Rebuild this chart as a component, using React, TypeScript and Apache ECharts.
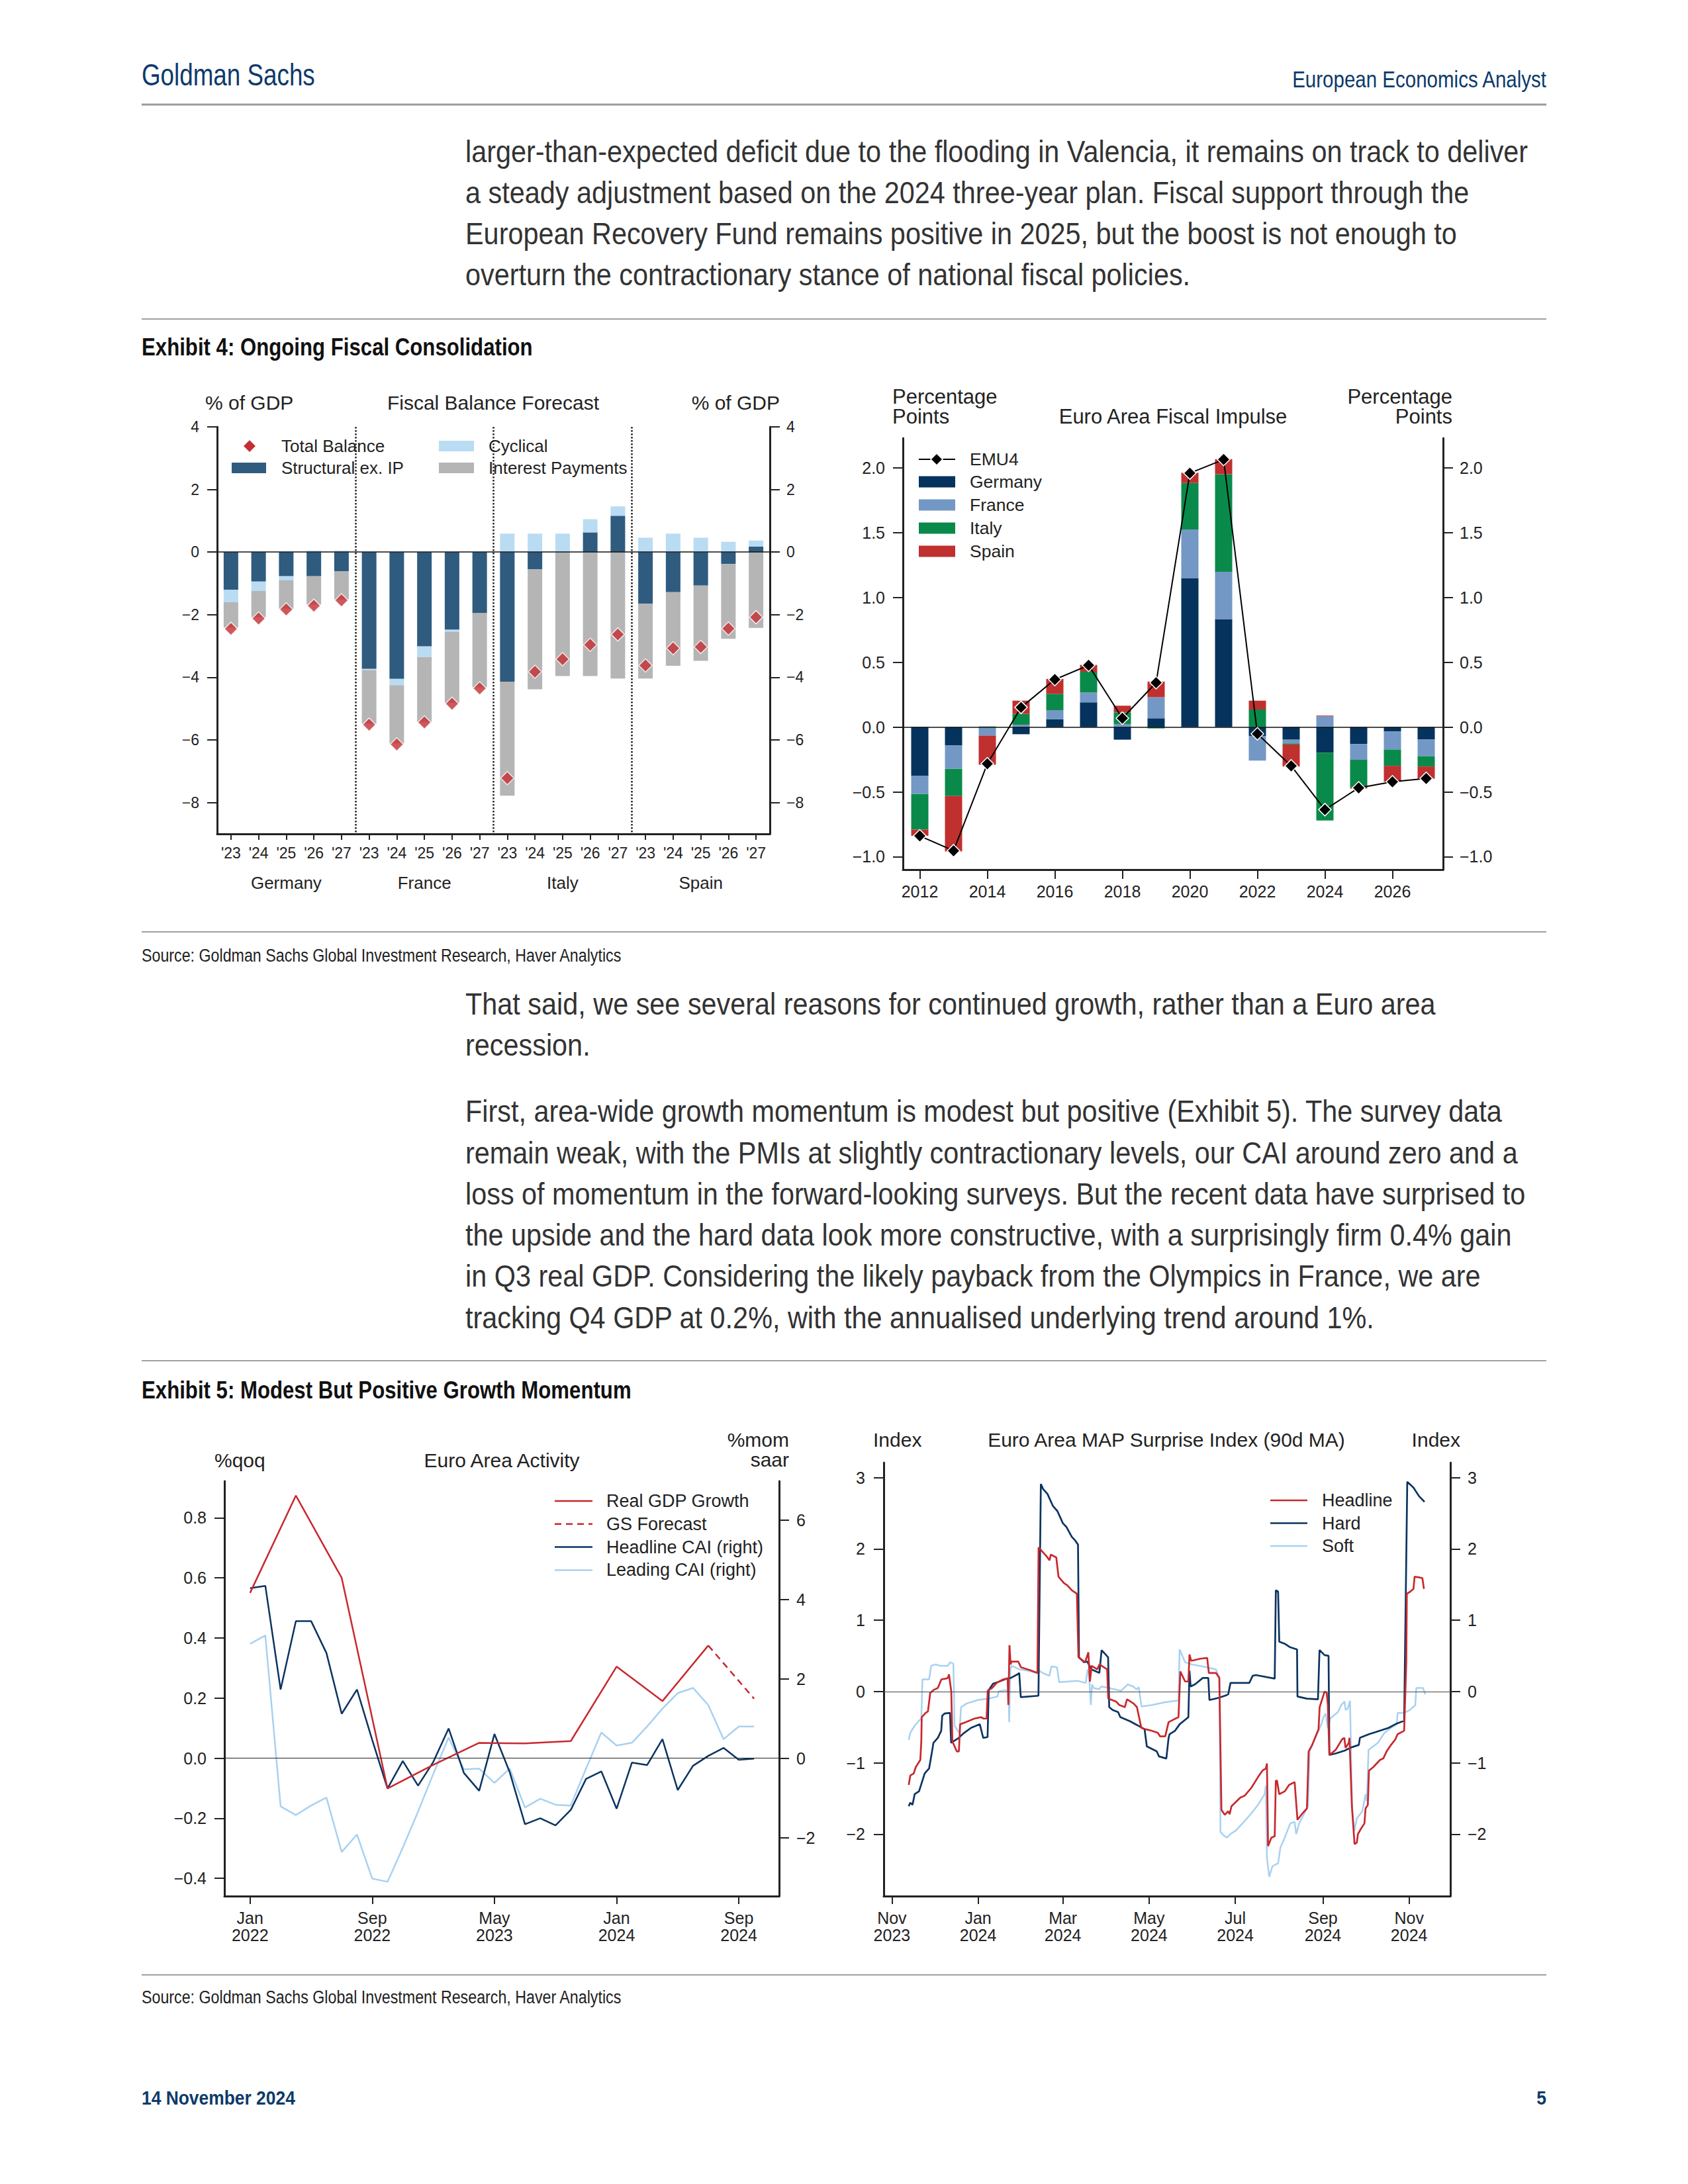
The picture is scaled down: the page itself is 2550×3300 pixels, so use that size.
import React, { useEffect, useRef } from 'react';
import * as echarts from 'echarts';

const W = 2550;
const H = 3300;
const SANS = '"Liberation Sans", Arial, sans-serif';

// ---------- Exhibit 4 left: Fiscal Balance Forecast ----------
const fbCountries = ['Germany', 'France', 'Italy', 'Spain'];
const fbYears = ["'23", "'24", "'25", "'26", "'27"];
const fbStructural = [-1.2, -0.94, -0.77, -0.77, -0.61, -3.73, -4.05, -3.01, -2.48, -1.95, -4.14, -0.55, 0, 0.63, 1.16, -1.65, -1.28, -1.07, -0.38, 0.18];
const fbCyclical = [-0.4, -0.3, -0.13, 0.05, 0.05, -0.04, -0.2, -0.34, -0.07, 0, 0.59, 0.59, 0.59, 0.42, 0.3, 0.46, 0.59, 0.46, 0.33, 0.19];
const fbInterest = [-0.81, -0.84, -0.91, -0.9, -0.9, -1.71, -1.86, -2.07, -2.26, -2.37, -3.64, -3.83, -3.96, -3.96, -4.04, -2.39, -2.35, -2.4, -2.39, -2.42];
const fbTotal = [-2.45, -2.12, -1.83, -1.71, -1.54, -5.51, -6.14, -5.44, -4.84, -4.35, -7.22, -3.82, -3.42, -2.96, -2.63, -3.62, -3.07, -3.03, -2.44, -2.08];
const fbTicks = [-8, -6, -4, -2, 0, 2, 4];

// ---------- Exhibit 4 right: Euro Area Fiscal Impulse ----------
const fiYears = ['2012', '2013', '2014', '2015', '2016', '2017', '2018', '2019', '2020', '2021', '2022', '2023', '2024', '2025', '2026', '2027'];
const fiGermany = [-0.377, -0.142, 0, -0.055, 0.06, 0.191, -0.097, 0.068, 1.15, 0.833, -0.068, -0.097, -0.197, -0.131, -0.034, -0.094];
const fiFrance = [-0.139, -0.18, -0.066, 0.018, 0.071, 0.076, 0.024, 0.163, 0.375, 0.365, -0.191, -0.029, 0.084, -0.121, -0.139, -0.131];
const fiItaly = [-0.275, -0.21, 0.005, 0.084, 0.126, 0.16, 0.089, -0.01, 0.359, 0.754, 0.136, -0.008, -0.524, -0.212, -0.126, -0.079];
const fiSpain = [-0.048, -0.427, -0.225, 0.102, 0.115, 0.053, 0.052, 0.12, 0.079, 0.116, 0.068, -0.17, 0.005, -0.01, -0.123, -0.094];
const fiEMU4 = [-0.84, -0.954, -0.283, 0.152, 0.367, 0.477, 0.068, 0.343, 1.96, 2.065, -0.052, -0.299, -0.637, -0.469, -0.422, -0.396];
const fiTicks = [-1, -0.5, 0, 0.5, 1, 1.5, 2];

// ---------- Exhibit 5 left: Euro Area Activity (x = months since Jan 2022) ----------
const gdpMonths = [0, 3, 6, 9, 12, 15, 18, 21, 24, 27, 30];
const gdpValues = [0.55, 0.874, 0.6, -0.101, -0.022, 0.051, 0.049, 0.057, 0.305, 0.19, 0.375];
const gdpFcMonths = [30, 33];
const gdpFcValues = [0.375, 0.198];
const caiMonths = Array.from({ length: 34 }, (_, i) => i);
const caiHeadline = [4.28, 4.34, 1.73, 3.45, 3.45, 2.65, 1.12, 1.73, 0.46, -0.76, -0.07, -0.69, -0.09, 0.75, -0.37, -0.82, 0.61, -0.35, -1.66, -1.51, -1.69, -1.3, -0.52, -0.33, -1.27, -0.11, -0.17, 0.48, -0.8, -0.19, 0.06, 0.26, -0.04, -0.01];
const caiLeading = [2.88, 3.09, -1.21, -1.43, -1.19, -0.99, -2.36, -1.92, -3.03, -3.11, -2.25, -1.34, -0.39, 0.52, -0.28, -0.26, -0.62, -0.26, -1.24, -1.02, -1.17, -1.19, -0.26, 0.65, 0.32, 0.39, 0.8, 1.25, 1.64, 1.77, 1.34, 0.48, 0.8, 0.8];
const actLeftTicks = [-0.4, -0.2, 0, 0.2, 0.4, 0.6, 0.8];
const actRightTicks = [-2, 0, 2, 4, 6];
const actXTicks = [0, 8, 16, 24, 32];
const actXLabels = ['Jan\n2022', 'Sep\n2022', 'May\n2023', 'Jan\n2024', 'Sep\n2024'];

// ---------- Exhibit 5 right: MAP Surprise Index (x = days since 1 Nov 2023) ----------
const mapHard = [[11.9,-1.61],[13,-1.56],[14.6,-1.59],[16.1,-1.44],[19.2,-1.4],[23.2,-1.15],[26.3,-1.08],[27.8,-0.91],[29.4,-0.72],[32.5,-0.65],[34.9,-0.55],[35.6,-0.34],[37.2,-0.31],[41.1,-0.3],[41.9,-0.72],[47.4,-0.65],[50.5,-0.59],[56,-0.51],[62.2,-0.46],[64.6,-0.65],[67.7,-0.64],[68.5,0.02],[71.6,0.11],[74.8,0.13],[81,0.18],[84.1,0.19],[88.8,0.24],[90.1,0.26],[91.2,-0.08],[103.7,-0.06],[105.4,2.91],[107,2.84],[110.1,2.77],[114,2.6],[117.1,2.53],[121,2.36],[123.4,2.31],[127.3,2.17],[129.6,2.12],[131.7,2.06],[132.4,0.48],[135.9,0.41],[138.2,0.42],[141.3,0.31],[146.8,0.26],[148.4,0.58],[153,0.48],[153.8,-0.22],[156.2,-0.26],[160.1,-0.29],[161.6,-0.36],[168.7,-0.42],[173.4,-0.47],[178.8,-0.53],[180.4,-0.77],[187.4,-0.84],[189,-0.91],[194.2,-0.94],[195.8,-0.65],[196.5,-0.6],[200.4,-0.55],[203.6,-0.46],[206.7,-0.41],[209.8,-0.36],[210.6,0.29],[211.4,0.07],[214.5,0.1],[220,0.19],[223.9,0.19],[224.7,-0.12],[231,-0.09],[235.7,-0.06],[238,-0.04],[239.6,0.12],[252.9,0.12],[255.3,0.22],[257.6,0.23],[270.9,0.18],[271.7,1.42],[273.3,1.4],[274.1,0.7],[278,0.67],[281.9,0.62],[286.7,0.59],[287,-0.07],[293.7,-0.1],[301.5,-0.11],[302.6,0.58],[306.2,0.51],[309,0.5],[309.6,-0.89],[314,-0.87],[320.3,-0.83],[325.7,-0.78],[330.4,-0.75],[331.2,-0.65],[337.4,-0.6],[342.2,-0.57],[346.9,-0.54],[351.5,-0.51],[356.2,-0.46],[362.5,-0.41],[364.7,2.94],[369.1,2.86],[373,2.74],[376.9,2.66]];
const mapHeadline = [[11.9,-1.31],[13,-1.18],[15.4,-1.15],[16.9,-1.06],[20.1,-0.96],[20.8,-0.7],[21.1,-0.36],[23.9,-0.3],[25.5,-0.28],[27.1,-0.02],[29.4,0.02],[32.5,0.05],[35,0.17],[38.1,0.18],[39.6,0.19],[40.4,0.24],[42,0],[42.8,-0.7],[45.9,-0.84],[47.4,-0.84],[48.3,-0.46],[52.2,-0.43],[58.4,-0.38],[63.1,-0.36],[64.7,-0.38],[67,-0.38],[67.8,0.01],[71,0.05],[74.1,0.12],[78.8,0.17],[81.9,0.18],[82.4,-0.19],[83.2,0.65],[84,0.38],[84.7,0.42],[89.4,0.42],[91.3,0.34],[97.6,0.3],[103,0.26],[103.8,2.02],[109.3,1.9],[111.6,1.84],[112.4,1.92],[116.3,1.88],[117.9,1.61],[121.8,1.52],[124.1,1.49],[127.3,1.42],[130.9,1.37],[132,0.48],[136.7,0.41],[139,0.55],[140.1,0.14],[141.4,0.36],[145.3,0.31],[146.9,0.38],[152.3,0.31],[153.1,-0.1],[158.6,-0.14],[160.9,-0.19],[164.8,-0.22],[166.4,-0.11],[171.1,-0.17],[173.4,-0.22],[176.5,-0.51],[179.6,-0.53],[183.6,-0.55],[188.2,-0.58],[189.8,-0.63],[193.4,-0.63],[195.8,-0.43],[199.7,-0.39],[202.8,-0.36],[204.1,0.28],[207.5,0.14],[209.8,0.14],[210.6,0.52],[211.8,0.43],[218.4,0.46],[223.1,0.47],[224.3,0.26],[229.3,0.26],[231.7,0.19],[233.2,-1.66],[235.6,-1.73],[238,-1.68],[239,-1.72],[240.3,-1.61],[246.5,-1.49],[249.7,-1.46],[254.4,-1.35],[259.1,-1.2],[262.2,-1.11],[264.6,-1.08],[265.4,-1.01],[266.2,-2.17],[268.5,-2.05],[270.9,-2.03],[271.7,-1.25],[272.5,-1.25],[274.1,-1.44],[278,-1.4],[281.1,-1.31],[285,-1.27],[287,-1.8],[290.5,-1.71],[293.7,-1.64],[294.9,-0.84],[297.4,-0.75],[301.9,-0.53],[302.7,-0.22],[306.2,0],[307.7,-0.02],[308.5,-0.19],[309.6,-0.89],[314,-0.82],[318.6,-0.67],[320.2,-0.65],[321,-0.79],[323.3,-0.72],[323.8,-0.65],[325.5,-1.6],[327.4,-2.14],[329,-2.12],[329.8,-2],[332.1,-1.92],[334.4,-1.85],[335.2,-1.64],[336.8,-1.59],[337.6,-1.11],[340.7,-1.06],[345.4,-0.96],[347.7,-0.94],[350.1,-0.84],[353.2,-0.75],[356.3,-0.67],[357.8,-0.6],[362.5,-0.55],[364,0.4],[364.4,1.37],[366.8,1.4],[369.1,1.44],[369.9,1.61],[373,1.6],[375.4,1.59],[376.5,1.44]];
const mapSoft = [[11.9,-0.68],[13,-0.58],[16.1,-0.48],[19.2,-0.41],[20.8,-0.38],[21.6,0.17],[26.3,0.17],[27.8,0.36],[31,0.38],[34.1,0.36],[39.6,0.36],[41.1,0.41],[43.5,0.39],[44.3,-0.48],[46.6,-0.55],[47.8,-0.58],[48.9,-0.22],[52.8,-0.17],[60.6,-0.12],[68.5,-0.1],[74.8,-0.07],[75.5,0],[80.2,0.02],[82.6,0],[83,-0.43],[83.8,0.31],[84.8,0.36],[90.3,0.31],[96.6,0.29],[103.6,0.25],[104.4,0.29],[106.7,0.26],[111.4,0.22],[112.9,0.35],[116.8,0.34],[118.4,0.13],[124.7,0.14],[131,0.15],[137.2,0.12],[138.5,0.31],[139.6,0.19],[140.8,-0.19],[141.6,0.1],[142.7,0.05],[146.6,0.03],[148.2,0.07],[153.6,0.05],[162.2,0.01],[166.9,0.1],[170.8,0.07],[173.1,0.03],[174.7,0.06],[176.6,-0.21],[184.1,-0.19],[193.4,-0.15],[201.2,-0.13],[202.8,-0.13],[203.6,0.59],[207.5,0.41],[212.2,0.38],[223.1,0.34],[229.3,0.31],[231.7,0.19],[232.5,-1.97],[234.8,-2.02],[237.2,-2.05],[239.5,-2],[243.4,-1.95],[248.1,-1.85],[254.4,-1.71],[259.1,-1.59],[262.2,-1.49],[263.8,-1.44],[264.6,-1.32],[265.4,-2.33],[267,-2.6],[269.3,-2.45],[273.3,-2.41],[274.9,-2.19],[278,-2.05],[281.9,-1.85],[285,-1.83],[286.1,-2],[288.2,-1.85],[293.7,-1.64],[294.5,-1.61],[295.6,-0.84],[300,-0.63],[303.9,-0.46],[305.4,-0.36],[307,-0.31],[308.5,-0.51],[310.1,-0.38],[315.6,-0.29],[318,-0.19],[320.3,-0.14],[321.1,-0.26],[322.6,-0.24],[324.2,-0.13],[325.7,-1.68],[327.4,-1.95],[329,-1.78],[332.9,-1.68],[335.2,-1.44],[336.1,-1.54],[337.3,-0.82],[339.2,-0.79],[343.9,-0.72],[348.6,-0.58],[353.2,-0.51],[357.2,-0.46],[357.9,-0.3],[362.5,-0.3],[366.5,-0.26],[370.4,-0.19],[371.1,0.05],[375.8,0.05],[377.4,-0.04]];
const mapYTicks = [-2, -1, 0, 1, 2, 3];
const mapXTicks = [0, 61, 121, 182, 243, 305, 366];
const mapXLabels = ['Nov\n2023', 'Jan\n2024', 'Mar\n2024', 'May\n2024', 'Jul\n2024', 'Sep\n2024', 'Nov\n2024'];

// ---------- page text ----------
const para1 = [
  'larger-than-expected deficit due to the flooding in Valencia, it remains on track to deliver',
  'a steady adjustment based on the 2024 three-year plan. Fiscal support through the',
  'European Recovery Fund remains positive in 2025, but the boost is not enough to',
  'overturn the contractionary stance of national fiscal policies.',
];
const para2 = [
  'That said, we see several reasons for continued growth, rather than a Euro area',
  'recession.',
];
const para3 = [
  'First, area-wide growth momentum is modest but positive (Exhibit 5). The survey data',
  'remain weak, with the PMIs at slightly contractionary levels, our CAI around zero and a',
  'loss of momentum in the forward-looking surveys. But the recent data have surprised to',
  'the upside and the hard data look more constructive, with a surprisingly firm 0.4% gain',
  'in Q3 real GDP. Considering the likely payback from the Olympics in France, we are',
  'tracking Q4 GDP at 0.2%, with the annualised underlying trend around 1%.',
];

const C = {
  struct: '#2f5b7f', cyc: '#b9dcf2', ip: '#b5b5b5', total: '#c42e33',
  de: '#05335d', fr: '#7398c5', it: '#0a8a4a', es: '#c0302f',
  red: '#c8282e', navy: '#0b3461', light: '#a8d1f1', axis: '#222',
};

const minus = (s: string) => s.replace('-', '\u2212');

function txt(x: number, y: number, text: string, size: number, o: any = {}) {
  const align = o.align || 'left';
  return {
    type: 'text', x, y, scaleX: o.sx || 1, silent: true, z: 100,
    style: {
      text, fontSize: size, fontFamily: SANS, fontWeight: o.weight || 'normal',
      fill: o.color || '#222', align, textAlign: align, verticalAlign: 'middle', textVerticalAlign: 'middle',
      lineHeight: o.lh || Math.round(size * 1.15),
    },
  };
}
function hline(x1: number, x2: number, y: number, color: string, w: number, dash?: number[]) {
  return { type: 'line', silent: true, z: 100, shape: { x1, y1: y, x2, y2: y }, style: { stroke: color, lineWidth: w, lineDash: dash } };
}
function box(x: number, y: number, w: number, h: number, fill: string) {
  return { type: 'rect', silent: true, z: 100, shape: { x, y, width: w, height: h }, style: { fill } };
}
function diamond(cx: number, cy: number, r: number, fill: string) {
  return { type: 'polygon', silent: true, z: 101, shape: { points: [[cx, cy - r], [cx + r, cy], [cx, cy + r], [cx - r, cy]] }, style: { fill, stroke: '#fff', lineWidth: 1.5 } };
}

function valueAxis(grid: number, pos: string, min: number, max: number, ticks: number[], fmt: (v: number) => string, size: number, margin: number, tickLen = 15) {
  return {
    type: 'value', gridIndex: grid, position: pos, min, max,
    axisLine: { show: true, onZero: false, lineStyle: { color: C.axis, width: 3 } },
    axisTick: { show: true, inside: false, length: tickLen, customValues: ticks, lineStyle: { color: C.axis, width: 2 } },
    axisLabel: { show: true, customValues: ticks, formatter: fmt, fontSize: size, fontFamily: SANS, color: '#222', margin },
    splitLine: { show: false },
  };
}

const zeroLine = (color = '#111', width = 1.5) => ({
  silent: true, symbol: ['none', 'none'], label: { show: false },
  lineStyle: { color, width, type: 'solid' }, data: [{ yAxis: 0 }],
});

const fbCats = fbCountries.flatMap((c) => fbYears.map((y) => c + y));

function buildOption() {
  const graphic: any[] = [];
  const navyTxt = '#0d3a6b';
  const body = { sx: 0.9, color: '#333' };
  // header
  graphic.push(txt(214, 113, 'Goldman Sachs', 46, { sx: 0.8, color: navyTxt }));
  graphic.push(txt(2336, 119, 'European Economics Analyst', 36, { sx: 0.82, color: navyTxt, align: 'right' }));
  graphic.push(hline(214, 2336, 158, '#9a9a9a', 3));
  const bodyX = 703;
  para1.forEach((t, i) => graphic.push(txt(bodyX, 229 + i * 62, t, 46, body)));
  graphic.push(hline(214, 2336, 482, '#a0a0a0', 2));
  graphic.push(txt(214, 524, 'Exhibit 4: Ongoing Fiscal Consolidation', 37, { sx: 0.843, weight: 'bold', color: '#111' }));
  graphic.push(hline(214, 2336, 1408, '#a0a0a0', 2));
  graphic.push(txt(214, 1443, 'Source: Goldman Sachs Global Investment Research, Haver Analytics', 28, { sx: 0.83, color: '#222' }));
  para2.forEach((t, i) => graphic.push(txt(bodyX, 1517 + i * 62, t, 46, body)));
  para3.forEach((t, i) => graphic.push(txt(bodyX, 1679 + i * 62.3, t, 46, body)));
  graphic.push(hline(214, 2336, 2056, '#a0a0a0', 2));
  graphic.push(txt(214, 2100, 'Exhibit 5: Modest But Positive Growth Momentum', 37, { sx: 0.843, weight: 'bold', color: '#111' }));
  graphic.push(hline(214, 2336, 2984, '#a0a0a0', 2));
  graphic.push(txt(214, 3017, 'Source: Goldman Sachs Global Investment Research, Haver Analytics', 28, { sx: 0.83, color: '#222' }));
  graphic.push(txt(214, 3169, '14 November 2024', 30, { sx: 0.88, weight: 'bold', color: navyTxt }));
  graphic.push(txt(2336, 3169, '5', 30, { sx: 0.88, weight: 'bold', color: navyTxt, align: 'right' }));

  // chart 1 headings + legend
  graphic.push(txt(310, 608, '% of GDP', 30));
  graphic.push(txt(745, 608, 'Fiscal Balance Forecast', 30, { align: 'center' }));
  graphic.push(txt(1178, 608, '% of GDP', 30, { align: 'right' }));
  graphic.push(diamond(377, 674, 10, C.total));
  graphic.push(txt(425, 674, 'Total Balance', 26));
  graphic.push(box(350, 699, 52, 16, C.struct));
  graphic.push(txt(425, 707, 'Structural ex. IP', 26));
  graphic.push(box(663, 666, 53, 16, C.cyc));
  graphic.push(txt(738, 674, 'Cyclical', 26));
  graphic.push(box(663, 699, 53, 16, C.ip));
  graphic.push(txt(738, 707, 'Interest Payments', 26));

  // chart 2 headings + legend
  graphic.push(txt(1348, 614, 'Percentage\nPoints', 31, { lh: 30 }));
  graphic.push(txt(1772, 629, 'Euro Area Fiscal Impulse', 31, { align: 'center' }));
  graphic.push(txt(2194, 614, 'Percentage\nPoints', 31, { align: 'right', lh: 30 }));
  graphic.push(hline(1388, 1443, 694, '#000', 2));
  graphic.push(diamond(1415, 694, 9, '#000'));
  graphic.push(txt(1465, 694, 'EMU4', 26.5));
  [['Germany', C.de], ['France', C.fr], ['Italy', C.it], ['Spain', C.es]].forEach(([n, col], i) => {
    const cy = 728 + i * 35;
    graphic.push(box(1388, cy - 8.5, 55, 17, col));
    graphic.push(txt(1465, cy, n, 26.5));
  });

  // chart 3 headings + legend
  graphic.push(txt(324, 2206, '%qoq', 30));
  graphic.push(txt(758, 2206, 'Euro Area Activity', 30, { align: 'center' }));
  graphic.push(txt(1192, 2190, '%mom\nsaar', 30, { align: 'right', lh: 30 }));
  const l3: [string, string, number[] | undefined][] = [
    ['Real GDP Growth', C.red, undefined], ['GS Forecast', C.red, [10, 7]],
    ['Headline CAI (right)', C.navy, undefined], ['Leading CAI (right)', C.light, undefined],
  ];
  l3.forEach(([n, col, dash], i) => {
    const cy = 2268 + i * 34.8;
    graphic.push(hline(838, 895, cy, col, 2.5, dash));
    graphic.push(txt(916, cy, n, 27));
  });

  // chart 4 headings + legend
  graphic.push(txt(1319, 2175, 'Index', 30));
  graphic.push(txt(1762, 2175, 'Euro Area MAP Surprise Index (90d MA)', 30, { align: 'center' }));
  graphic.push(txt(2206, 2175, 'Index', 30, { align: 'right' }));
  [['Headline', C.red], ['Hard', C.navy], ['Soft', C.light]].forEach(([n, col], i) => {
    const cy = 2267 + i * 34.5;
    graphic.push(hline(1919, 1975, cy, col, 2.5));
    graphic.push(txt(1997, cy, n, 27));
  });

  const fmtInt = (v: number) => minus(String(v));
  const fmt1 = (v: number) => minus(v.toFixed(1));

  return {
    animation: false,
    backgroundColor: '#ffffff',
    textStyle: { fontFamily: SANS },
    grid: [
      { left: 328, top: 645, width: 835, height: 615 },
      { left: 1364, top: 662, width: 816, height: 652 },
      { left: 339, top: 2238, width: 838, height: 627 },
      { left: 1335, top: 2210, width: 856, height: 655 },
    ],
    xAxis: [
      {
        type: 'category', gridIndex: 0, data: fbCats, position: 'bottom', boundaryGap: true,
        axisLine: { show: true, onZero: false, lineStyle: { color: C.axis, width: 3 } },
        axisTick: { show: true, alignWithLabel: true, length: 9, lineStyle: { color: C.axis, width: 2 } },
        axisLabel: { interval: 0, fontSize: 23, color: '#222', margin: 17, formatter: (v: string) => v.slice(-3) },
        splitLine: { show: false },
      },
      {
        type: 'category', gridIndex: 0, data: fbCountries, position: 'bottom', boundaryGap: true,
        axisLine: { show: false }, axisTick: { show: false },
        axisLabel: { interval: 0, fontSize: 26, color: '#222', margin: 61 },
        splitLine: { show: true, showMinLine: false, showMaxLine: false, lineStyle: { color: '#222', width: 2.5, type: 'dotted' } },
      },
      {
        type: 'category', gridIndex: 1, data: fiYears, boundaryGap: true,
        axisLine: { show: true, onZero: false, lineStyle: { color: C.axis, width: 3 } },
        axisTick: { show: true, alignWithLabel: true, interval: 1, length: 14, lineStyle: { color: C.axis, width: 2 } },
        axisLabel: { interval: 1, fontSize: 25, color: '#222', margin: 20 },
        splitLine: { show: false },
      },
      {
        type: 'value', gridIndex: 2, min: -1.68, max: 34.64,
        axisLine: { show: true, onZero: false, lineStyle: { color: C.axis, width: 3 } },
        axisTick: { show: true, length: 12, customValues: actXTicks, lineStyle: { color: C.axis, width: 2 } },
        axisLabel: { customValues: actXTicks, fontSize: 25, color: '#222', margin: 20, lineHeight: 26, formatter: (v: number) => actXLabels[actXTicks.indexOf(v)] || '' },
        splitLine: { show: false },
      },
      {
        type: 'value', gridIndex: 3, min: -5.8, max: 395.2,
        axisLine: { show: true, onZero: false, lineStyle: { color: C.axis, width: 3 } },
        axisTick: { show: true, length: 12, customValues: mapXTicks, lineStyle: { color: C.axis, width: 2 } },
        axisLabel: { customValues: mapXTicks, fontSize: 25, color: '#222', margin: 20, lineHeight: 26, formatter: (v: number) => mapXLabels[mapXTicks.indexOf(v)] || '' },
        splitLine: { show: false },
      },
    ],
    yAxis: [
      valueAxis(0, 'left', -9, 4, fbTicks, fmtInt, 23, 27),
      valueAxis(0, 'right', -9, 4, fbTicks, fmtInt, 23, 25),
      valueAxis(1, 'left', -1.1, 2.23, fiTicks, fmt1, 25, 27),
      valueAxis(1, 'right', -1.1, 2.23, fiTicks, fmt1, 25, 25),
      valueAxis(2, 'left', -0.459, 0.922, actLeftTicks, fmt1, 25, 27),
      valueAxis(2, 'right', -3.47, 6.975, actRightTicks, fmtInt, 25, 26),
      valueAxis(3, 'left', -2.87, 3.21, mapYTicks, fmtInt, 25, 28),
      valueAxis(3, 'right', -2.87, 3.21, mapYTicks, fmtInt, 25, 26),
    ],
    graphic,
    series: [
      // chart 1
      { name: 'Structural ex. IP', type: 'bar', xAxisIndex: 0, yAxisIndex: 0, stack: 'fb', barWidth: 22, data: fbStructural, itemStyle: { color: C.struct }, markLine: zeroLine() },
      { name: 'Cyclical', type: 'bar', xAxisIndex: 0, yAxisIndex: 0, stack: 'fb', barWidth: 22, data: fbCyclical, itemStyle: { color: C.cyc } },
      { name: 'Interest Payments', type: 'bar', xAxisIndex: 0, yAxisIndex: 0, stack: 'fb', barWidth: 22, data: fbInterest, itemStyle: { color: C.ip } },
      { name: 'Total Balance', type: 'scatter', xAxisIndex: 0, yAxisIndex: 0, data: fbTotal, symbol: 'diamond', symbolSize: 20, z: 5, itemStyle: { color: C.total, borderColor: '#fff', borderWidth: 1.5 } },
      // chart 2
      { name: 'Germany', type: 'bar', xAxisIndex: 2, yAxisIndex: 2, stack: 'fi', barWidth: 26, data: fiGermany, itemStyle: { color: C.de }, markLine: zeroLine() },
      { name: 'France', type: 'bar', xAxisIndex: 2, yAxisIndex: 2, stack: 'fi', barWidth: 26, data: fiFrance, itemStyle: { color: C.fr } },
      { name: 'Italy', type: 'bar', xAxisIndex: 2, yAxisIndex: 2, stack: 'fi', barWidth: 26, data: fiItaly, itemStyle: { color: C.it } },
      { name: 'Spain', type: 'bar', xAxisIndex: 2, yAxisIndex: 2, stack: 'fi', barWidth: 26, data: fiSpain, itemStyle: { color: C.es } },
      { name: 'EMU4', type: 'line', xAxisIndex: 2, yAxisIndex: 2, data: fiEMU4, z: 5, symbol: 'diamond', symbolSize: 19, showAllSymbol: true, lineStyle: { color: '#000', width: 2 }, itemStyle: { color: '#000', borderColor: '#fff', borderWidth: 1.5 } },
      // chart 3
      { name: 'Leading CAI (right)', type: 'line', xAxisIndex: 3, yAxisIndex: 5, symbol: 'none', data: caiMonths.map((m, i) => [m, caiLeading[i]]), lineStyle: { color: C.light, width: 2.5 } },
      { name: 'Headline CAI (right)', type: 'line', xAxisIndex: 3, yAxisIndex: 5, symbol: 'none', data: caiMonths.map((m, i) => [m, caiHeadline[i]]), lineStyle: { color: C.navy, width: 2.5 } },
      { name: 'Real GDP Growth', type: 'line', xAxisIndex: 3, yAxisIndex: 4, symbol: 'none', data: gdpMonths.map((m, i) => [m, gdpValues[i]]), lineStyle: { color: C.red, width: 2.5 }, markLine: zeroLine('#222', 1.2) },
      { name: 'GS Forecast', type: 'line', xAxisIndex: 3, yAxisIndex: 4, symbol: 'none', data: gdpFcMonths.map((m, i) => [m, gdpFcValues[i]]), lineStyle: { color: C.red, width: 2.5, type: [10, 7] } },
      // chart 4
      { name: 'Soft', type: 'line', xAxisIndex: 4, yAxisIndex: 6, symbol: 'none', data: mapSoft, lineStyle: { color: C.light, width: 2.5 }, markLine: zeroLine('#444', 1.2) },
      { name: 'Hard', type: 'line', xAxisIndex: 4, yAxisIndex: 6, symbol: 'none', data: mapHard, lineStyle: { color: C.navy, width: 2.7 } },
      { name: 'Headline', type: 'line', xAxisIndex: 4, yAxisIndex: 6, symbol: 'none', data: mapHeadline, lineStyle: { color: C.red, width: 2.7 } },
    ],
  };
}

export default function App() {
  const ref = useRef<HTMLDivElement>(null);
  useEffect(() => {
    if (!ref.current) return;
    const chart = echarts.init(ref.current, null, { renderer: 'svg', width: W, height: H });
    chart.setOption(buildOption() as any);
    return () => chart.dispose();
  }, []);
  return <div ref={ref} style={{ position: 'absolute', left: 0, top: 0, width: W, height: H, background: '#fff' }} />;
}
